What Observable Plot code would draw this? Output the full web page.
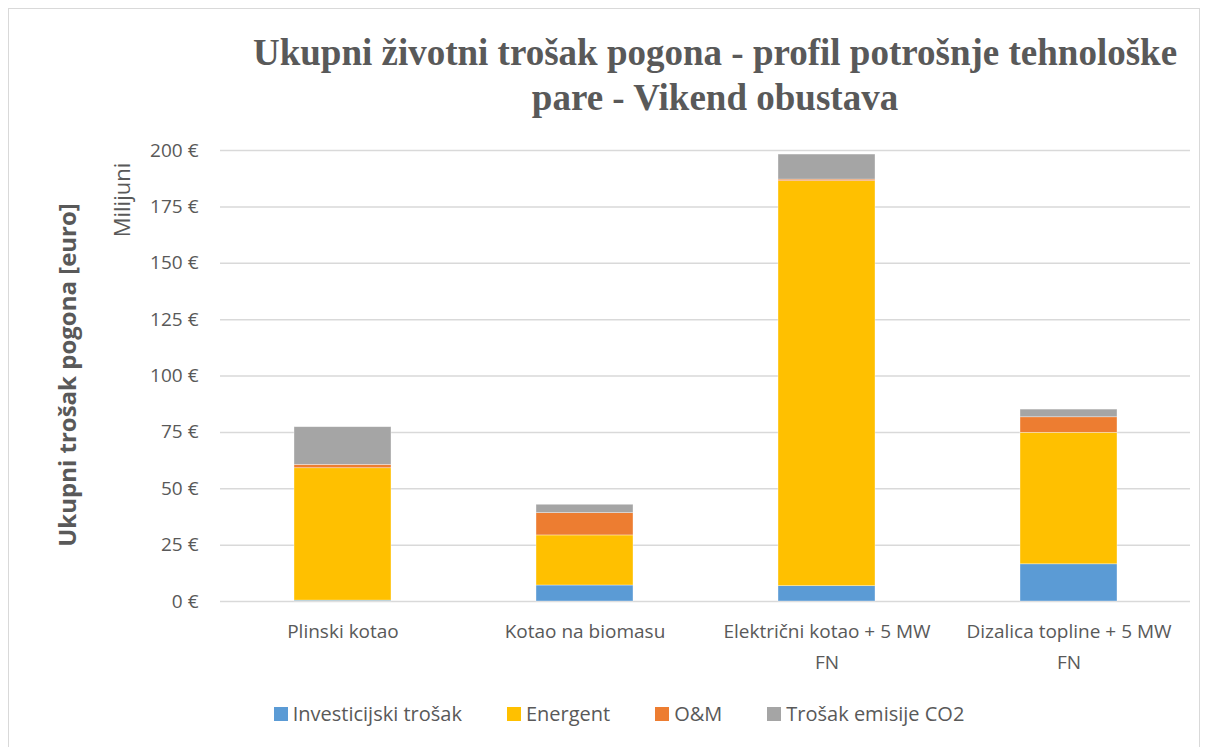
<!DOCTYPE html>
<html>
<head>
<meta charset="utf-8">
<script src="https://cdn.jsdelivr.net/npm/d3@7"></script>
<script src="https://cdn.jsdelivr.net/npm/@observablehq/plot@0.6"></script>
<style>
  html, body { margin: 0; padding: 0; background: #fff; }
  #wrap { position: relative; width: 1206px; height: 747px; overflow: hidden; }
  #frame { position: absolute; left: 8px; top: 8px; width: 1192px; height: 745px; border: 1px solid #d9d9d9; box-sizing: border-box; }
  #title { position: absolute; left: 215px; width: 1000px; top: 30px; text-align: center; font-family: "Liberation Serif", serif; font-weight: bold; font-size: 37px; line-height: 45px; color: #595959; }
  .rot { position: absolute; transform: translate(-50%, -50%) rotate(-90deg); white-space: nowrap; color: #595959; font-family: "Open Sans", sans-serif; }
  #ylab { left: 66px; top: 375px; font-size: 24px; font-weight: bold; }
  #unit { left: 121px; top: 200px; font-size: 22px; }
  #legend { position: absolute; top: 700px; left: 0; width: 1206px; display: flex; justify-content: center; gap: 45px; font-family: "Open Sans", sans-serif; font-size: 20px; color: #595959; padding-left: 32px; box-sizing: border-box; }
  .li { display: flex; align-items: center; gap: 5px; }
  .sw { width: 14px; height: 14px; display: inline-block; }
  svg { position: absolute; left: 0; top: 0; }
</style>
</head>
<body>
<div id="wrap">
  <div id="frame"></div>
  <div id="chart"></div>
  <div id="title">Ukupni životni trošak pogona - profil potrošnje tehnološke<br>pare - Vikend obustava</div>
  <div id="ylab" class="rot">Ukupni trošak pogona [euro]</div>
  <div id="unit" class="rot">Milijuni</div>
  <div id="legend"></div>
</div>
<script>
// Categories (x axis)
const categories = ["Plinski kotao", "Kotao na biomasu", "Električni kotao + 5 MW FN", "Dizalica topline + 5 MW FN"];
const categoryLabels = ["Plinski kotao", "Kotao na biomasu", "Električni kotao + 5 MW\nFN", "Dizalica topline + 5 MW\nFN"];
// Series values (millions of euro)
const investicijski = [0.4, 7.1, 6.8, 16.5];
const energent = [58.7, 22.2, 179.6, 58.3];
const om = [1.5, 9.9, 0.7, 6.9];
const co2 = [16.7, 3.7, 11.1, 3.4];
// Series names & colors
const seriesNames = ["Investicijski trošak", "Energent", "O&M", "Trošak emisije CO2"];
const seriesColors = ["#5B9BD5", "#FFC000", "#ED7D31", "#A5A5A5"];
// Y ticks
const yTicks = [0, 25, 50, 75, 100, 125, 150, 175, 200];

const seriesValues = [investicijski, energent, om, co2];
const rows = [];
seriesNames.forEach((s, si) => {
  categories.forEach((c, ci) => rows.push({category: c, series: s, value: seriesValues[si][ci]}));
});

const chart = Plot.plot({
  width: 1206,
  height: 747,
  marginLeft: 220,
  marginRight: 16,
  marginTop: 150,
  marginBottom: 146,
  style: {fontFamily: "'Open Sans', sans-serif", fontSize: "19px", color: "#595959", background: "transparent"},
  x: {domain: categories, paddingInner: 0.6, paddingOuter: 0.3, label: null},
  y: {domain: [0, 200], label: null},
  color: {domain: seriesNames, range: seriesColors},
  marks: [
    Plot.gridY(yTicks, {stroke: "#d9d9d9", strokeOpacity: 1, strokeWidth: 1.5}),
    Plot.barY(rows, {x: "category", y: "value", fill: "series", order: seriesNames, stroke: "#ffffff", strokeOpacity: 0.5, strokeWidth: 0.7}),
    Plot.axisX({tickSize: 0, tickPadding: 14, fontSize: 19, lineHeight: 1.65, tickFormat: d => categoryLabels[categories.indexOf(d)]}),
    Plot.axisY({ticks: yTicks, tickSize: 0, tickPadding: 22, fontSize: 19, tickFormat: d => d + " €"})
  ]
});
document.getElementById("chart").appendChild(chart);

const legend = document.getElementById("legend");
seriesNames.forEach((s, i) => {
  const el = document.createElement("div");
  el.className = "li";
  el.innerHTML = `<span class="sw" style="background:${seriesColors[i]}"></span><span>${s}</span>`;
  legend.appendChild(el);
});
</script>
</body>
</html>
